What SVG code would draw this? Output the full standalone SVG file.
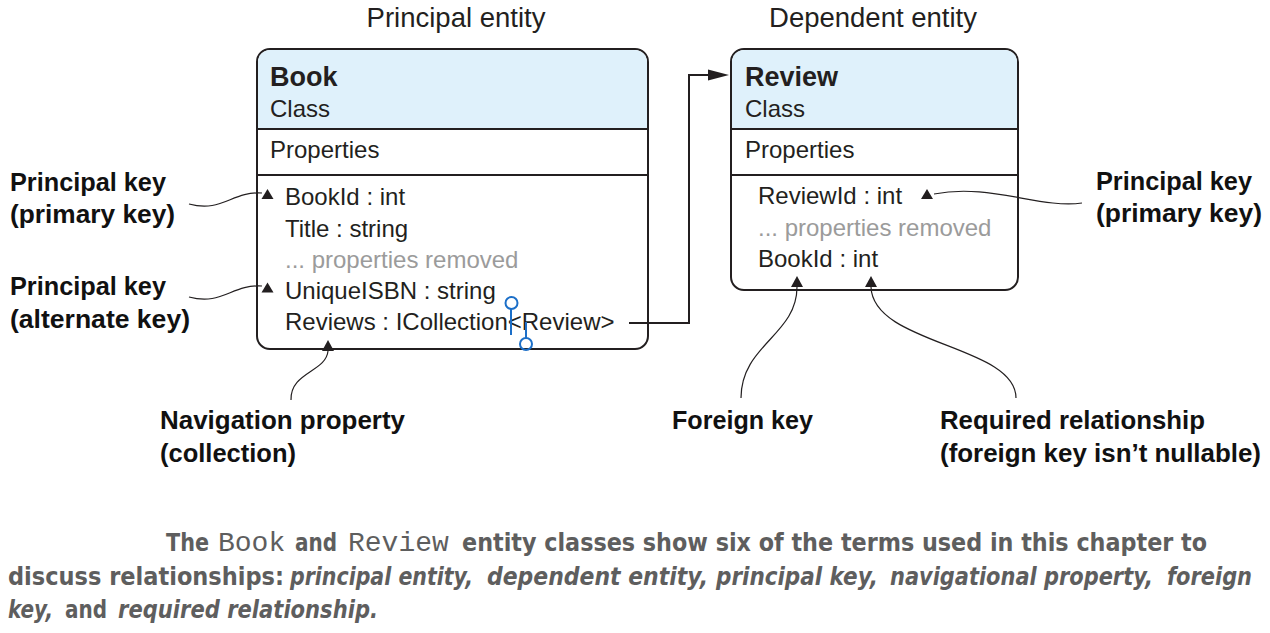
<svg xmlns="http://www.w3.org/2000/svg" width="1270" height="633" viewBox="0 0 1270 633">
<style>
.box{fill:#fff;stroke:#231f20;stroke-width:2}
.hdr{fill:#dff1fb}
.sep{stroke:#231f20;stroke-width:2}
.t{font-family:"Liberation Sans",Arial,sans-serif;fill:#231f20;font-size:24px}
.title{font-family:"Liberation Sans",Arial,sans-serif;fill:#231f20;font-size:27px;font-weight:bold}
.gray{fill:#9b9b9b}
.top{font-family:"Liberation Sans",Arial,sans-serif;fill:#231f20;font-size:27.5px;text-anchor:middle}
.lbl{font-family:"Liberation Sans",Arial,sans-serif;fill:#111;font-size:25px;font-weight:bold}
.cap{font-family:"Liberation Sans Narrow","DejaVu Sans Condensed","Liberation Sans",sans-serif;fill:#5e5e5e;font-size:25px;font-weight:bold}
.mono{font-family:"Liberation Mono","Courier New",monospace;fill:#5e5e5e;font-size:28px}
.it{font-style:italic}
.c{fill:none;stroke:#231f20;stroke-width:1.2}
.conn{fill:none;stroke:#231f20;stroke-width:2}
.tri{fill:#231f20}
.cur{fill:none;stroke:#1c6fc8;stroke-width:2}
</style>

<text class="top" x="456" y="27">Principal entity</text>
<text class="top" x="873" y="27">Dependent entity</text>

<g id="book">
<rect class="box" x="257" y="49" width="391" height="300" rx="13"/>
<path class="hdr" d="M270,50 H635 A12,12 0 0 1 647,62 V128 H258 V62 A12,12 0 0 1 270,50 Z"/>
<line class="sep" x1="257" y1="129" x2="648" y2="129"/>
<line class="sep" x1="257" y1="175" x2="648" y2="175"/>
<text class="title" x="270" y="86">Book</text>
<text class="t" x="270" y="117">Class</text>
<text class="t" x="270" y="158">Properties</text>
<text class="t" x="285" y="205">BookId : int</text>
<text class="t" x="285" y="237">Title : string</text>
<text class="t gray" x="285" y="268">... properties removed</text>
<text class="t" x="285" y="299">UniqueISBN : string</text>
<text class="t" x="285" y="330">Reviews : ICollection&lt;Review&gt;</text>
<circle class="cur" cx="511.5" cy="303" r="6"/>
<line class="cur" x1="511" y1="309" x2="511" y2="335"/>
<line class="cur" x1="526" y1="322" x2="526" y2="338"/>
<circle class="cur" cx="526" cy="344" r="6"/>
</g>

<g id="review">
<rect class="box" x="731" y="49" width="287" height="241" rx="13"/>
<path class="hdr" d="M744,50 H1005 A12,12 0 0 1 1017,62 V128 H732 V62 A12,12 0 0 1 744,50 Z"/>
<line class="sep" x1="731" y1="129" x2="1018" y2="129"/>
<line class="sep" x1="731" y1="175" x2="1018" y2="175"/>
<text class="title" x="745" y="86">Review</text>
<text class="t" x="745" y="117">Class</text>
<text class="t" x="745" y="158">Properties</text>
<text class="t" x="758" y="204">ReviewId : int</text>
<text class="t gray" x="758" y="236">... properties removed</text>
<text class="t" x="758" y="267">BookId : int</text>
</g>

<g id="connectors">
<path class="conn" d="M629,323 H689 V75 H712"/>
<polygon class="tri" points="708,69.5 729,75 708,80.5"/>
<path class="c" d="M189,204 C222,213 232,191 262,193"/>
<polygon class="tri" points="267.5,189 261.5,199 273.5,199"/>
<path class="c" d="M189,297 C222,306 232,284 262,286"/>
<polygon class="tri" points="267.5,282.5 261.5,292.5 273.5,292.5"/>
<path class="c" d="M291,400 C290,372 326,372 328,351"/>
<polygon class="tri" points="328,340 322,351 334,351"/>
<path class="c" d="M741,398 C741,345 797,335 797,287"/>
<polygon class="tri" points="797,276 791,287 803,287"/>
<path class="c" d="M1016,398 C1016,345 873,345 871,287"/>
<polygon class="tri" points="871,276 865,287 877,287"/>
<path class="c" d="M1082,203 C1040,209 990,183 934,194"/>
<polygon class="tri" points="927,189 921,199 933,199"/>
</g>

<g id="labels">
<text class="lbl" x="10" y="191" textLength="156" lengthAdjust="spacingAndGlyphs">Principal key</text>
<text class="lbl" x="10" y="223" textLength="165" lengthAdjust="spacingAndGlyphs">(primary key)</text>
<text class="lbl" x="10" y="295" textLength="156" lengthAdjust="spacingAndGlyphs">Principal key</text>
<text class="lbl" x="10" y="328" textLength="180" lengthAdjust="spacingAndGlyphs">(alternate key)</text>
<text class="lbl" x="160" y="429" textLength="245" lengthAdjust="spacingAndGlyphs">Navigation property</text>
<text class="lbl" x="160" y="462" textLength="136" lengthAdjust="spacingAndGlyphs">(collection)</text>
<text class="lbl" x="672" y="429" textLength="141" lengthAdjust="spacingAndGlyphs">Foreign key</text>
<text class="lbl" x="940" y="429" textLength="265" lengthAdjust="spacingAndGlyphs">Required relationship</text>
<text class="lbl" x="940" y="462" textLength="321" lengthAdjust="spacingAndGlyphs">(foreign key isn’t nullable)</text>
<text class="lbl" x="1096" y="190" textLength="156" lengthAdjust="spacingAndGlyphs">Principal key</text>
<text class="lbl" x="1096" y="222" textLength="166" lengthAdjust="spacingAndGlyphs">(primary key)</text>
</g>

<g id="caption">
<text class="cap" x="166" y="551" textLength="43" lengthAdjust="spacingAndGlyphs">The</text>
<text class="mono" x="218" y="551">Book</text>
<text class="cap" x="295" y="551" textLength="42" lengthAdjust="spacingAndGlyphs">and</text>
<text class="mono" x="348" y="551">Review</text>
<text class="cap" x="462" y="551" textLength="745" lengthAdjust="spacingAndGlyphs">entity classes show six of the terms used in this chapter to</text>

<text class="cap" x="8" y="585" textLength="276" lengthAdjust="spacingAndGlyphs">discuss relationships:</text>
<text class="cap it" x="290" y="585" textLength="183" lengthAdjust="spacingAndGlyphs">principal entity,</text>
<text class="cap it" x="487" y="585" textLength="221" lengthAdjust="spacingAndGlyphs">dependent entity,</text>
<text class="cap it" x="716" y="585" textLength="162" lengthAdjust="spacingAndGlyphs">principal key,</text>
<text class="cap it" x="890" y="585" textLength="263" lengthAdjust="spacingAndGlyphs">navigational property,</text>
<text class="cap it" x="1167" y="585" textLength="85" lengthAdjust="spacingAndGlyphs">foreign</text>

<text class="cap it" x="8" y="618" textLength="45" lengthAdjust="spacingAndGlyphs">key,</text>
<text class="cap" x="65" y="618" textLength="42" lengthAdjust="spacingAndGlyphs">and</text>
<text class="cap it" x="118" y="618" textLength="260" lengthAdjust="spacingAndGlyphs">required relationship.</text>
</g>
</svg>
